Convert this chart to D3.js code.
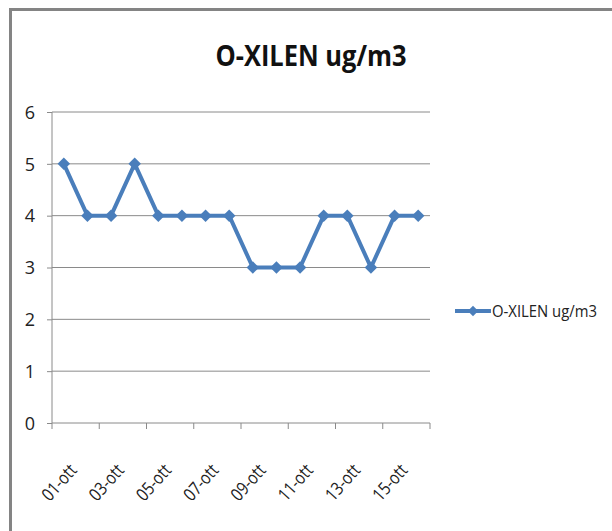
<!DOCTYPE html>
<html>
<head>
<meta charset="utf-8">
<script src="https://cdn.jsdelivr.net/npm/d3@7"></script>
<style>
  body { margin: 0; background: #fff; }
  text { font-family: "Open Sans", "Liberation Sans", sans-serif; }
</style>
</head>
<body>
<script>
// dati
var giorni = ["01-ott", "02-ott", "03-ott", "04-ott", "05-ott", "06-ott", "07-ott", "08-ott",
              "09-ott", "10-ott", "11-ott", "12-ott", "13-ott", "14-ott", "15-ott", "16-ott"];
var valori = [5, 4, 4, 5, 4, 4, 4, 4, 3, 3, 3, 4, 4, 3, 4, 4];
var yTicks = [0, 1, 2, 3, 4, 5, 6];
var titolo = "O-XILEN ug/m3";
var nomeSerie = "O-XILEN ug/m3";

var larghezza = 612, altezza = 531;
var marge = {boven: 112, links: 52, rechts: 430, beneden: 423};
var blu = "#4A7EBB";
var grigio = "#8a8a8a";

var svg = d3.select("body").append("svg")
  .attr("width", larghezza)
  .attr("height", altezza);

// bordo
svg.append("rect")
  .attr("x", 10.5).attr("y", 9.5)
  .attr("width", 700).attr("height", 700)
  .attr("fill", "white")
  .attr("stroke", "#848484")
  .attr("stroke-width", 3);

var x = d3.scaleBand()
  .domain(giorni)
  .range([marge.links, marge.rechts]);

var y = d3.scaleLinear()
  .domain([0, 6])
  .range([marge.beneden, marge.boven]);

// griglia
svg.selectAll("line.griglia")
  .data(yTicks.slice(1))
  .enter().append("line")
  .attr("class", "griglia")
  .attr("x1", marge.links).attr("x2", marge.rechts)
  .attr("y1", function(d) { return y(d); })
  .attr("y2", function(d) { return y(d); })
  .attr("stroke", grigio).attr("stroke-width", 1);

// asse y
var asY = d3.axisLeft(y).tickValues(yTicks).tickFormat(d3.format("d")).tickSize(5).tickPadding(12);
var gY = svg.append("g")
  .attr("transform", "translate(" + marge.links + ",0)")
  .call(asY);
gY.select(".domain").attr("stroke", grigio).attr("d", "M0," + marge.boven + "V" + marge.beneden);
gY.selectAll(".tick line").attr("stroke", grigio);
gY.selectAll("text")
  .attr("font-size", "18px")
  .attr("fill", "#222")
  .attr("dy", "0.35em");

// asse x
var bordi = d3.range(0, giorni.length + 1, 2).map(function(i) {
  return marge.links + i * x.bandwidth();
});
svg.append("line")
  .attr("x1", marge.links).attr("x2", marge.rechts)
  .attr("y1", marge.beneden).attr("y2", marge.beneden)
  .attr("stroke", grigio);
svg.selectAll("line.tickx")
  .data(bordi)
  .enter().append("line")
  .attr("class", "tickx")
  .attr("x1", function(d) { return d; }).attr("x2", function(d) { return d; })
  .attr("y1", marge.beneden).attr("y2", marge.beneden + 6)
  .attr("stroke", grigio);

svg.selectAll("text.etichetta")
  .data(giorni.filter(function(d, i) { return i % 2 === 0; }))
  .enter().append("text")
  .attr("class", "etichetta")
  .attr("transform", function(d) {
    return "translate(" + (x(d) + x.bandwidth() / 2 + 14) + "," + (marge.beneden + 48) + ") rotate(-48)";
  })
  .attr("text-anchor", "end")
  .attr("font-size", "18px")
  .attr("fill", "#222")
  .attr("textLength", 42)
  .attr("lengthAdjust", "spacingAndGlyphs")
  .text(function(d) { return d; });

// linea
var dati = giorni.map(function(g, i) { return {giorno: g, valore: valori[i]}; });
var linea = d3.line()
  .x(function(d) { return x(d.giorno) + x.bandwidth() / 2; })
  .y(function(d) { return y(d.valore); });

svg.append("path")
  .datum(dati)
  .attr("d", linea)
  .attr("fill", "none")
  .attr("stroke", blu)
  .attr("stroke-width", 4)
  .attr("stroke-linejoin", "round");

var rombo = d3.symbol().type(d3.symbolDiamond2).size(100);
svg.selectAll("path.punto")
  .data(dati)
  .enter().append("path")
  .attr("class", "punto")
  .attr("d", rombo)
  .attr("transform", function(d) {
    return "translate(" + (x(d.giorno) + x.bandwidth() / 2) + "," + y(d.valore) + ")";
  })
  .attr("fill", blu);

// titolo
svg.append("text")
  .attr("x", 311).attr("y", 66)
  .attr("text-anchor", "middle")
  .attr("font-size", "28px")
  .attr("font-weight", "bold")
  .attr("fill", "#111")
  .attr("textLength", 191)
  .attr("lengthAdjust", "spacingAndGlyphs")
  .text(titolo);

// legenda
svg.append("line")
  .attr("x1", 455).attr("x2", 491)
  .attr("y1", 311).attr("y2", 311)
  .attr("stroke", blu).attr("stroke-width", 4);
svg.append("path")
  .attr("d", d3.symbol().type(d3.symbolDiamond2).size(70))
  .attr("transform", "translate(473,311)")
  .attr("fill", blu);
svg.append("text")
  .attr("x", 492).attr("y", 317)
  .attr("font-size", "17px")
  .attr("fill", "#222")
  .attr("textLength", 105)
  .attr("lengthAdjust", "spacingAndGlyphs")
  .text(nomeSerie);
</script>
</body>
</html>
